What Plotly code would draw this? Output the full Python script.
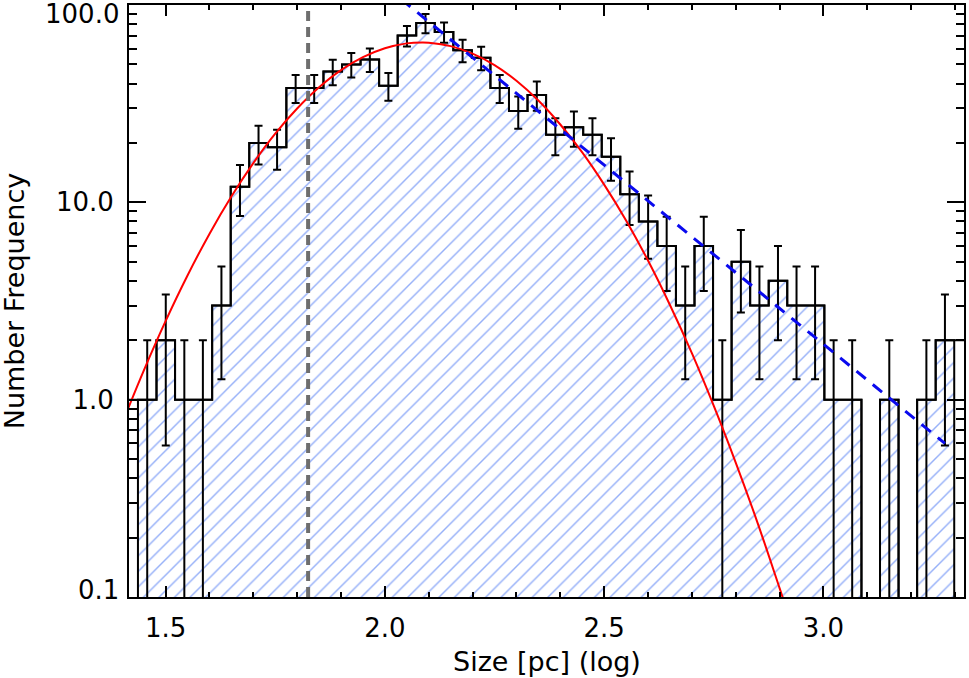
import numpy as np
import plotly.graph_objects as go

# ---- data ----
counts = [1, 2, 1, 1, 3, 12, 20, 19, 38, 38, 46, 50, 53, 39, 70, 81, 73, 59, 54, 38,
          29, 35, 22, 24, 22, 17, 11, 8, 6, 3, 6, 1, 5, 3, 4, 3, 3, 1, 1, 0,
          1, 0, 1, 2]
bin_start = 1.437      # log size of first bin's left edge
bin_width = 0.0423     # log bin width

# log-normal fit (red)
red_x = [1.40, 1.45, 1.50, 1.55, 1.60, 1.65, 1.70, 1.75, 1.80, 1.85, 1.90, 1.95,
         2.00, 2.05, 2.085, 2.10, 2.15, 2.20, 2.25, 2.30, 2.35, 2.40, 2.45, 2.50,
         2.55, 2.60, 2.65, 2.70, 2.75, 2.80, 2.85, 2.90, 2.93]
red_y = [0.75, 1.40, 2.50, 4.26, 6.92, 10.7, 15.8, 22.3, 29.9, 38.3, 46.8, 54.4,
         60.4, 63.9, 64.6, 64.4, 61.9, 56.7, 49.6, 41.3, 32.8, 24.8, 17.9, 12.3,
         8.10, 5.07, 3.02, 1.72, 0.93, 0.48, 0.237, 0.111, 0.07]

# power-law fit (blue dashed)
blue_x = [2.00, 3.277]
blue_y = [125.0, 0.60]

# completeness limit (grey dashed)
limit_x = 1.825

x_ticks = [1.5, 2.0, 2.5, 3.0]
x_ticktext = ["1.5", "2.0", "2.5", "3.0"]
y_ticks = [0.1, 1, 10, 100]
y_ticktext = ["0.1", "1.0", "10.0", "100.0"]

# ---- derived ----
n = len(counts)
edges = bin_start + bin_width * np.arange(n + 1)
centers = edges[:-1] + bin_width / 2
floor = 1e-3
c_plot = [c if c > 0 else floor for c in counts]

poly_x = [edges[0]]
poly_y = [floor]
for i in range(n):
    poly_x += [edges[i], edges[i + 1]]
    poly_y += [c_plot[i], c_plot[i]]
poly_x += [edges[-1], edges[0]]
poly_y += [floor, floor]

step_x = [edges[0] - bin_width] + list(edges[1:n]) + [edges[n] + bin_width]
step_y = c_plot + [c_plot[-1]]

nz = [i for i in range(n) if counts[i] > 0]
err_x = [centers[i] for i in nz]
err_y = [counts[i] for i in nz]
err_v = [float(np.sqrt(counts[i])) for i in nz]

FONT = "DejaVu Sans"

fig = go.Figure()

fig.add_trace(go.Scatter(
    x=poly_x, y=poly_y, mode="lines", fill="toself",
    line=dict(color="black", width=2),
    fillcolor="white",
    fillpattern=dict(shape="/", fgcolor="#2c60f2", bgcolor="white",
                     size=11, solidity=0.13),
    hoverinfo="skip"))

fig.add_trace(go.Scatter(
    x=step_x, y=step_y, mode="lines", line_shape="hv",
    line=dict(color="black", width=2), hoverinfo="skip"))

fig.add_trace(go.Scatter(
    x=err_x, y=err_y, mode="markers",
    marker=dict(color="rgba(0,0,0,0)", size=1),
    error_y=dict(type="data", array=err_v, symmetric=True,
                 color="black", thickness=2, width=4)))

fig.add_trace(go.Scatter(
    x=red_x, y=red_y, mode="lines", line_shape="spline",
    line=dict(color="#ff0000", width=2), hoverinfo="skip"))

fig.add_trace(go.Scatter(
    x=blue_x, y=blue_y, mode="lines",
    line=dict(color="#0a0aee", width=3, dash="12px,9px"), hoverinfo="skip"))

fig.add_trace(go.Scatter(
    x=[limit_x, limit_x], y=[0.1, 100], mode="lines",
    line=dict(color="#6e6e6e", width=4, dash="10px,6px"), hoverinfo="skip"))

# inner tick labels via the axis, edge labels as annotations kept inside the page
inner_text = [t if 0.1 < v < 100 else "" for v, t in zip(y_ticks, y_ticktext)]
edge_ann = []
for v, t in zip(y_ticks, y_ticktext):
    if v in (0.1, 100):
        edge_ann.append(dict(
            text=t, xref="paper", yref="y", x=0, y=np.log10(v),
            xanchor="right", yanchor="middle", xshift=-8,
            yshift=(-9 if v == 100 else 7), showarrow=False,
            font=dict(family=FONT, size=26, color="black")))

fig.update_layout(
    width=969, height=678,
    margin=dict(l=129, r=3, t=3, b=81),
    paper_bgcolor="white", plot_bgcolor="white",
    showlegend=False,
    font=dict(family=FONT, size=26, color="black"),
    annotations=[
        dict(text="Size [pc] (log)", xref="paper", yref="paper",
             x=0.5, y=-0.1094, xanchor="center", yanchor="middle",
             showarrow=False, font=dict(family=FONT, size=27, color="black")),
        dict(text="Number Frequency", xref="paper", yref="paper",
             x=-0.1374, y=0.5, xanchor="center", yanchor="middle",
             textangle=-90, showarrow=False,
             font=dict(family=FONT, size=27, color="black")),
    ] + edge_ann,
)

fig.update_xaxes(
    range=[1.4166, 3.3205], showgrid=False, zeroline=False,
    showline=True, linecolor="black", linewidth=2, mirror="ticks",
    ticks="inside", ticklen=11, tickwidth=1.5, tickcolor="black",
    tickvals=x_ticks, ticktext=x_ticktext, ticklabelstandoff=7,
    tickfont=dict(family=FONT, size=26, color="black"),
    minor=dict(ticks="inside", ticklen=5, tickwidth=1.5, tickcolor="black",
               dtick=0.1, showgrid=False),
)
fig.update_yaxes(
    type="log", range=[-1, 2], showgrid=False, zeroline=False,
    showline=True, linecolor="black", linewidth=2, mirror="ticks",
    ticks="inside", ticklen=17, tickwidth=1.5, tickcolor="black",
    tickvals=y_ticks, ticktext=inner_text, ticklabelstandoff=8,
    tickfont=dict(family=FONT, size=26, color="black"),
    minor=dict(ticks="inside", ticklen=8, tickwidth=1.5, tickcolor="black",
               dtick="D1", showgrid=False),
)

fig.write_html("out.html")
